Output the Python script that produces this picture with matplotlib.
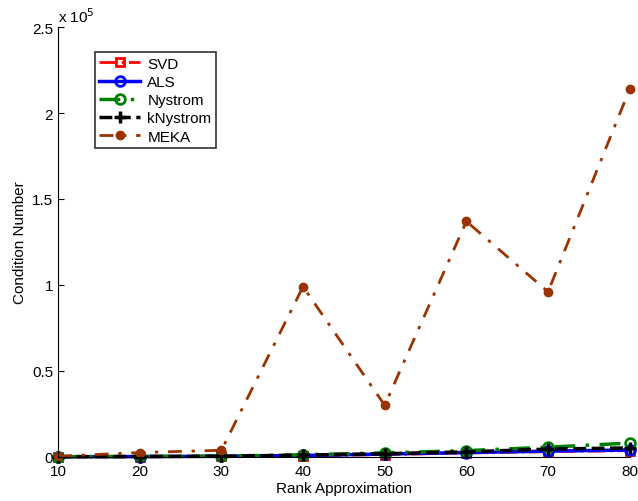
import matplotlib
matplotlib.use('Agg')
import matplotlib.pyplot as plt
import numpy as np

plt.rcParams['font.family'] = ['Liberation Sans', 'DejaVu Sans']

ranks = [10, 20, 30, 40, 50, 60, 70, 80]
svd = [50, 100, 200, 600, 1300, 2200, 3000, 3600]
als = [60, 150, 300, 800, 1600, 2500, 3300, 4000]
nystrom = [80, 200, 400, 1200, 2300, 3600, 5600, 8000]
knystrom = [70, 180, 350, 1000, 1800, 2900, 4500, 5200]
meka = [300, 2500, 3800, 99000, 30000, 137000, 96000, 214000]

fig = plt.figure(figsize=(6.38, 5.02), dpi=100)
ax = fig.add_axes([0.091, 0.088, 0.896, 0.856])

scale = 1e5
ax.plot(ranks, np.array(svd) / scale, color='red', ls='-.', lw=2,
        marker='s', ms=6, mfc='none', mew=2, label='SVD', clip_on=False)
ax.plot(ranks, np.array(als) / scale, color='blue', ls='-', lw=2.5,
        marker='o', ms=7, mfc='none', mew=2, label='ALS', clip_on=False)
ax.plot(ranks, np.array(nystrom) / scale, color='green', ls=(0, (6, 3, 1, 3)), lw=2.5,
        marker='o', ms=7, mfc='none', mew=2, label='Nystrom', clip_on=False)
ax.plot(ranks, np.array(knystrom) / scale, color='black', ls='--', lw=2.5,
        marker='+', ms=8, mew=2.5, label='kNystrom', clip_on=False)
ax.plot(ranks, np.array(meka) / scale, color='#993300', ls=(0, (5, 3.5, 1.2, 3.5)), lw=2,
        marker='o', ms=6, label='MEKA', clip_on=False)

ax.set_xlim(10, 80)
ax.set_ylim(0, 2.5)
ax.set_xticks(ranks)
ax.set_yticks([0, 0.5, 1, 1.5, 2, 2.5])
ax.set_yticklabels(['0', '0.5', '1', '1.5', '2', '2.5'])
ax.tick_params(direction='in', labelsize=11, length=4)
ax.tick_params(axis='x', pad=5)
ax.spines['top'].set_visible(False)
ax.spines['right'].set_visible(False)
ax.set_xlabel('Rank Approximation', fontsize=11, labelpad=2)
ax.set_ylabel('Condition Number', fontsize=11)
ax.text(0.0, 1.005, r'x 10$^5$', transform=ax.transAxes, fontsize=11,
        ha='left', va='bottom')

leg = ax.legend(loc='upper left', bbox_to_anchor=(0.064, 0.942), borderaxespad=0,
                fontsize=11, frameon=True, fancybox=False, edgecolor='black',
                handlelength=2.7, borderpad=0.3, labelspacing=0.28,
                handletextpad=0.45)
leg.get_frame().set_linewidth(1.2)

fig.savefig('out.png', dpi=100)
